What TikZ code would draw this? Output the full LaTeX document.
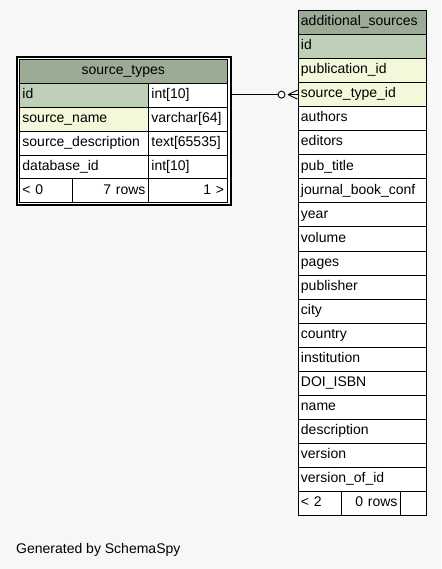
\documentclass[tikz,border=0pt]{standalone}
\usepackage{fontspec}
\setmainfont{Liberation Sans}
\definecolor{pagebg}{HTML}{F7F7F7}
\definecolor{titlebg}{HTML}{9BAB96}
\definecolor{pkbg}{HTML}{BED1B8}
\definecolor{fkbg}{HTML}{F4F7DA}
\begin{document}
\begin{tikzpicture}[x=1pt,y=-1pt,
  cell/.style={draw=black, line width=0.9pt, inner xsep=3pt, inner ysep=0pt,
    minimum height=23.9pt, anchor=north west, text height=10pt, text depth=3.5pt,
    font=\fontsize{14}{16}\selectfont},
  frame/.style={draw=black, line width=2pt, fill=white, inner sep=0pt, anchor=north west},
  conn/.style={draw=black, line width=0.9pt}]
\fill[pagebg] (0,0) rectangle (441,569);
\useasboundingbox (0,0) rectangle (441,569);

% source_types table
\node[frame, minimum width=213.5pt, minimum height=148pt] (st-frame) at (16,56) {};
\node[cell, fill=titlebg, text width=201.5pt, align=center] (st-title) at (19,59) {source\_types};
\node[cell, fill=pkbg, text width=123pt, align=left] (st-id) at (19,82.9) {id};
\node[cell, fill=white, text width=72.5pt, align=left] (st-idtype) at (148,82.9) {int[10]};
\node[cell, fill=fkbg, text width=123pt, align=left] (st-name) at (19,106.8) {source\_name};
\node[cell, fill=white, text width=72.5pt, align=left] (st-nametype) at (148,106.8) {varchar[64]};
\node[cell, fill=white, text width=123pt, align=left] (st-desc) at (19,130.7) {source\_description};
\node[cell, fill=white, text width=72.5pt, align=left] (st-desctype) at (148,130.7) {text[65535]};
\node[cell, fill=white, text width=123pt, align=left] (st-db) at (19,154.6) {database\_id};
\node[cell, fill=white, text width=72.5pt, align=left] (st-dbtype) at (148,154.6) {int[10]};
\node[cell, fill=white, text width=47pt, align=left] (st-f1) at (19,178.5) {< 0};
\node[cell, fill=white, text width=70pt, align=right] (st-f2) at (72,178.5) {7 rows};
\node[cell, fill=white, text width=72.5pt, align=right] (st-f3) at (148,178.5) {1 >};

% additional_sources table
\node[cell, fill=titlebg, text width=122pt, align=left, minimum height=24.05pt] (as-title) at (297.5,10) {additional\_sources};
\foreach \t [count=\i] in {id,publication\_id,source\_type\_id,authors,editors,pub\_title,journal\_book\_conf,year,volume,pages,publisher,city,country,institution,DOI\_ISBN,name,description,version,version\_of\_id}{
  \pgfmathsetmacro\yy{10+\i*24.05}
  \ifnum\i=1 \def\fc{pkbg}\else\ifnum\i<4 \def\fc{fkbg}\else\def\fc{white}\fi\fi
  \node[cell, fill=\fc, text width=122pt, align=left, minimum height=24.05pt] (as-\i) at (297.5,\yy) {\t};
}
\node[cell, fill=white, text width=37.5pt, align=left, minimum height=24.05pt] (as-f1) at (297.5,491) {< 2};
\node[cell, fill=white, text width=53pt, align=right, minimum height=24.05pt] (as-f2) at (341,491) {0 rows};
\node[cell, fill=white, text width=19.5pt, align=right, minimum height=24.05pt] (as-f3) at (400,491) {};

% relationship
\coordinate (cstart) at (st-frame.east |- as-3.west);
\coordinate (ccirc) at ([xshift=-16pt]as-3.west);
\coordinate (capex) at ([xshift=-9.5pt]as-3.west);
\draw[conn] (cstart) -- ([xshift=-3.5pt]ccirc);
\draw[conn, fill=white] (ccirc) circle[radius=3.5pt];
\draw[conn] (capex) -- ([yshift=-4.5pt]as-3.west);
\draw[conn] (capex) -- (as-3.west);
\draw[conn] (capex) -- ([yshift=4.5pt]as-3.west);

\node[anchor=west, inner sep=0pt, font=\fontsize{14}{16}\selectfont] (gen) at (16,550) {Generated by SchemaSpy};
\end{tikzpicture}
\end{document}
